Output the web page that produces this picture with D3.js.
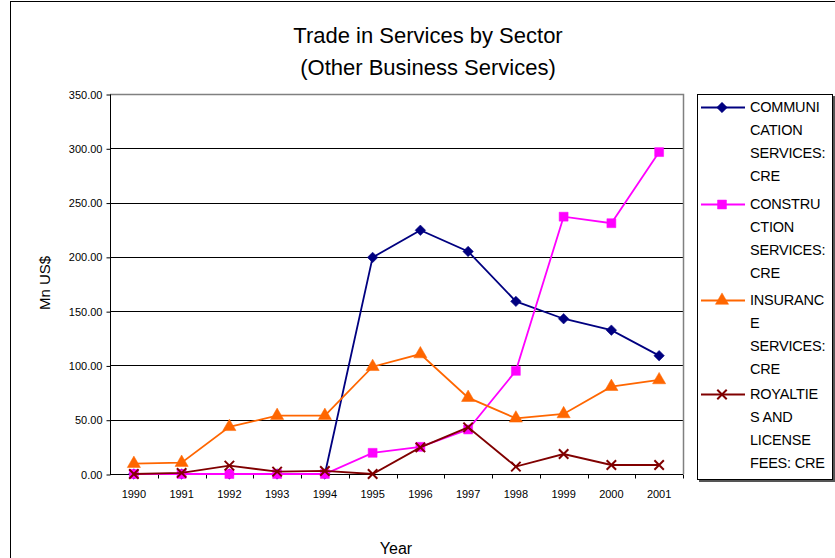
<!DOCTYPE html>
<html>
<head>
<meta charset="utf-8">
<script src="https://cdn.jsdelivr.net/npm/d3@7.9.0/dist/d3.min.js"></script>
<style>
  body { margin: 0; background: #fff; }
  svg { display: block; font-family: "Liberation Sans", Arial, sans-serif; }
</style>
</head>
<body>
<svg width="835" height="558"></svg>
<script>
const years = ['1990','1991','1992','1993','1994','1995','1996','1997','1998','1999','2000','2001'];
const communication = [0, 0, 0, 0, 0, 199.5, 224.5, 205, 159, 143, 132.5, 109];
const construction = [0, 0, 0, 0, 0, 19.5, 25, 41, 95, 237, 231, 296.5];
const insurance = [9.5, 10.5, 43.5, 53.7, 53.7, 98.8, 110.5, 70.3, 51.3, 55.3, 80.4, 86.6];
const royalties = [0, 1, 7.7, 2.2, 2.8, 0, 24.5, 43, 6.8, 18.4, 8.3, 8.3];
const yTicks = [0, 50, 100, 150, 200, 250, 300, 350];

const series = [
  { values: communication, color: '#000080', symbol: d3.symbolSquare, size: 55, rotate: 45,
    lines: ['COMMUNI', 'CATION', 'SERVICES:', 'CRE'] },
  { values: construction, color: '#FF00FF', symbol: d3.symbolSquare, size: 80, rotate: 0,
    lines: ['CONSTRU', 'CTION', 'SERVICES:', 'CRE'] },
  { values: insurance, color: '#FF6600', symbol: d3.symbolTriangle, size: 75, rotate: 0,
    lines: ['INSURANC', 'E', 'SERVICES:', 'CRE'] },
  { values: royalties, color: '#800000', symbol: d3.symbolX, size: 60, rotate: 0,
    lines: ['ROYALTIE', 'S AND', 'LICENSE', 'FEES: CRE'] }
];

const svg = d3.select('svg');

// outer chart border
svg.append('rect')
  .attr('x', 10.5).attr('y', 1.5).attr('width', 840).attr('height', 570)
  .attr('fill', 'none').attr('stroke', '#000').attr('stroke-width', 1);

const plot = { left: 110, right: 683, top: 94, bottom: 474 };

const x = d3.scaleBand().domain(years).range([plot.left, plot.right]);
const y = d3.scaleLinear().domain([0, 350]).range([plot.bottom, plot.top]);

// title
svg.append('text')
  .attr('x', 428).attr('y', 43).attr('text-anchor', 'middle')
  .attr('font-size', 22).text('Trade in Services by Sector');
svg.append('text')
  .attr('x', 428).attr('y', 75).attr('text-anchor', 'middle')
  .attr('font-size', 22).text('(Other Business Services)');

// gridlines
svg.append('g').selectAll('line')
  .data(yTicks.filter((d) => d > 0 && d < 350))
  .join('line')
  .attr('x1', plot.left).attr('x2', plot.right)
  .attr('y1', (d) => Math.round(y(d)) + 0.5).attr('y2', (d) => Math.round(y(d)) + 0.5)
  .attr('stroke', '#000').attr('stroke-width', 1);

// plot area border (top/right grey)
svg.append('path')
  .attr('d', `M${plot.left},${plot.top + 0.5}H${plot.right + 0.5}V${plot.bottom}`)
  .attr('fill', 'none').attr('stroke', '#808080').attr('stroke-width', 1.5);

// y axis
const yAxis = svg.append('g')
  .attr('transform', `translate(${plot.left + 0.5},0.5)`)
  .call(d3.axisLeft(y).tickValues(yTicks).tickFormat(d3.format('.2f')).tickSize(4).tickPadding(4));
yAxis.selectAll('text').attr('font-size', 11).attr('fill', '#000');
yAxis.selectAll('line, path').attr('stroke', '#000');
yAxis.select('.domain').attr('d', `M0,${plot.top}V${plot.bottom}`);

// x axis, ticks between categories
const xAxisG = svg.append('g').attr('transform', `translate(0,${plot.bottom + 0.5})`);
xAxisG.append('line')
  .attr('x1', plot.left).attr('x2', plot.right)
  .attr('stroke', '#000');
xAxisG.selectAll('line.tick')
  .data(years.slice(1).concat(['end']))
  .join('line').attr('class', 'tick')
  .attr('x1', (d, i) => Math.round(plot.left + x.step() * (i + 1)) + 0.5)
  .attr('x2', (d, i) => Math.round(plot.left + x.step() * (i + 1)) + 0.5)
  .attr('y1', 0).attr('y2', 4).attr('stroke', '#000');
xAxisG.selectAll('text')
  .data(years)
  .join('text')
  .attr('x', (d) => x(d) + x.bandwidth() / 2)
  .attr('y', 23).attr('text-anchor', 'middle')
  .attr('font-size', 11).text((d) => d);

// axis titles
svg.append('text')
  .attr('transform', 'translate(50,283) rotate(-90)')
  .attr('text-anchor', 'middle').attr('font-size', 15).text('Mn US$');
svg.append('text')
  .attr('x', 396).attr('y', 554).attr('text-anchor', 'middle')
  .attr('font-size', 16).text('Year');

// lines and markers
const line = d3.line()
  .x((d, i) => x(years[i]) + x.bandwidth() / 2)
  .y((d) => y(d));

function drawMarker(sel, s) {
  sel.attr('d', d3.symbol().type(s.symbol).size(s.size)())
    .attr('fill', s.symbol === d3.symbolX ? 'none' : s.color)
    .attr('stroke', s.color)
    .attr('stroke-width', s.symbol === d3.symbolX ? 2 : 0.5);
}

series.forEach((s) => {
  svg.append('path')
    .datum(s.values)
    .attr('d', line)
    .attr('fill', 'none')
    .attr('stroke', s.color)
    .attr('stroke-width', 1.8);
  svg.append('g').selectAll('path')
    .data(s.values)
    .join('path')
    .attr('transform', (d, i) => `translate(${x(years[i]) + x.bandwidth() / 2},${y(d)}) rotate(${s.rotate})`)
    .call(drawMarker, s);
});

// legend
const legend = svg.append('g');
legend.append('rect')
  .attr('x', 699).attr('y', 96).attr('width', 136).attr('height', 386)
  .attr('fill', '#555');
legend.append('rect')
  .attr('x', 697.5).attr('y', 94.5).attr('width', 135).attr('height', 385)
  .attr('fill', '#fff').attr('stroke', '#000').attr('stroke-width', 1);

const entryTop = [107, 204, 300, 394];
series.forEach((s, i) => {
  const g = legend.append('g').attr('transform', `translate(0,${entryTop[i]})`);
  g.append('line')
    .attr('x1', 701).attr('x2', 745).attr('y1', 0.5).attr('y2', 0.5)
    .attr('stroke', s.color).attr('stroke-width', 1.8);
  g.append('path')
    .attr('transform', `translate(722,0.5) rotate(${s.rotate})`)
    .call(drawMarker, s);
  g.selectAll('text')
    .data(s.lines)
    .join('text')
    .attr('x', 750)
    .attr('y', (d, j) => j * 23 + 5)
    .attr('font-size', 14.5)
    .attr('letter-spacing', -0.2)
    .text((d) => d);
});
</script>
</body>
</html>
